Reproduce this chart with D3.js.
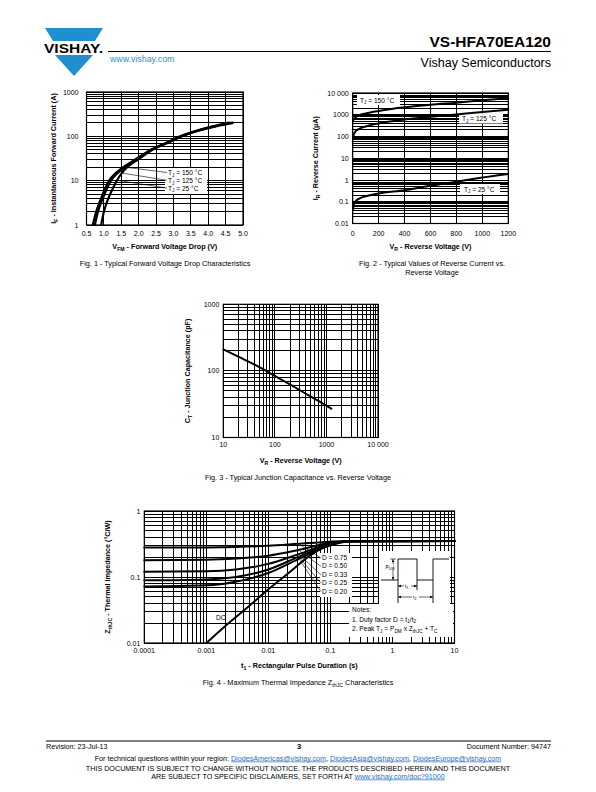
<!DOCTYPE html>
<html><head><meta charset="utf-8">
<script src="https://cdn.jsdelivr.net/npm/d3@7"></script>
<style>
body{margin:0;background:#fff}
svg{display:block}
text{font-family:"Liberation Sans",Arial,Helvetica,sans-serif;fill:#000}
</style></head>
<body><svg id="page" width="596" height="792"></svg>
<script>
// ---------------- DATA ----------------
// Fig.1  forward voltage (V) vs instantaneous forward current (A)
const fig1VoltageTicks = [0.5,1.0,1.5,2.0,2.5,3.0,3.5,4.0,4.5,5.0];
const fig1CurrentTicks = [1,10,100,1000];
const fig1CurrentLabels = ["1","10","100","1000"];
const fig1Tj150 = [[0.68,1],[0.78,2],[0.92,4],[1.05,7],[1.15,10],[1.35,15],[1.55,20],[1.9,30],[2.35,50],[2.8,72],[3.2,100],[3.7,135],[4.2,170],[4.7,205]];
const fig1Tj125 = [[0.74,1],[0.83,2],[0.97,4],[1.1,7],[1.2,10],[1.4,15],[1.6,20],[1.93,30],[2.38,50],[2.85,72],[3.25,100],[3.75,135],[4.25,170],[4.7,198]];
const fig1Tj25  = [[0.92,1],[1.0,2],[1.13,4],[1.27,7],[1.37,10],[1.52,15],[1.67,20],[1.98,30],[2.4,50],[2.82,72],[3.2,100],[3.68,135],[4.15,170],[4.6,205]];
const fig1Labels = ["150","125","25"];

// Fig.2  reverse voltage (V) vs reverse current (uA)
const fig2VoltageTicks = [0,200,400,600,800,1000,1200];
const fig2CurrentTicks = [0.01,0.1,1,10,100,1000,10000];
const fig2CurrentLabels = ["0.01","0.1","1","10","100","1000","10 000"];
const fig2Tj150 = [[3,560],[10,650],[25,800],[50,950],[100,1150],[200,1500],[300,1850],[400,2200],[600,2900],[800,3600],[1000,4600],[1200,5800]];
const fig2Tj125 = [[3,85],[10,130],[25,180],[50,225],[100,290],[200,400],[400,600],[600,800],[800,1030],[1000,1330],[1200,1700]];
const fig2Tj25  = [[3,0.045],[10,0.08],[25,0.11],[50,0.14],[100,0.18],[200,0.24],[400,0.34],[600,0.55],[800,0.84],[1000,1.3],[1200,1.9]];

// Fig.3  reverse voltage (V) vs junction capacitance (pF)
const fig3VoltageTicks = [10,100,1000,10000];
const fig3VoltageLabels = ["10","100","1000","10 000"];
const fig3CapTicks = [10,100,1000];
const fig3CapLabels = ["10","100","1000"];
const fig3Cap = [[10,210],[20,162],[50,114],[100,84],[200,62],[500,41],[1000,30],[1250,27]];

// Fig.4  pulse duration (s) vs thermal impedance (degC/W)
const fig4TimeTicks = [0.0001,0.001,0.01,0.1,1,10];
const fig4TimeLabels = ["0.0001","0.001","0.01","0.1","1","10"];
const fig4ZTicks = [0.01,0.1,1];
const fig4ZLabels = ["0.01","0.1","1"];
const fig4D075 = [[1e-4,0.28],[1e-3,0.281],[3e-3,0.285],[0.01,0.297],[0.03,0.318],[0.1,0.343],[0.2,0.35],[10,0.35]];
const fig4D050 = [[1e-4,0.18],[1e-3,0.182],[3e-3,0.19],[0.01,0.21],[0.03,0.255],[0.1,0.33],[0.2,0.349],[10,0.35]];
const fig4D033 = [[1e-4,0.12],[1e-3,0.122],[3e-3,0.13],[0.01,0.158],[0.03,0.22],[0.1,0.32],[0.2,0.348],[10,0.35]];
const fig4D025 = [[1e-4,0.089],[1e-3,0.092],[3e-3,0.1],[0.01,0.13],[0.03,0.2],[0.1,0.31],[0.2,0.347],[10,0.35]];
const fig4D020 = [[1e-4,0.072],[1e-3,0.075],[3e-3,0.085],[0.01,0.115],[0.03,0.185],[0.1,0.303],[0.2,0.345],[10,0.35]];
const fig4DC   = [[0.001,0.01],[0.002,0.018],[0.005,0.037],[0.01,0.065],[0.02,0.11],[0.05,0.22],[0.1,0.31],[0.2,0.345],[0.5,0.35],[10,0.35]];
const fig4DLabels = ["0.75","0.50","0.33","0.25","0.20"];

// ---------------- HELPERS ----------------
const svg = d3.select("#page");
const BLUE = "#1f8fd0";
const LINK = "#2a6fbf";

function rich(t, parts, size){
  let shift = 0;
  parts.forEach(p=>{
    const s = t.append("tspan");
    if (typeof p === "string"){ s.text(p); if (shift){ s.attr("dy", -shift); shift = 0; } }
    else { const d = size*0.28; s.text(p.sub).attr("font-size", size*0.72).attr("dy", d - shift); shift = d; }
  });
  return t;
}
function logGrid(lo, hi){
  const out = [];
  for (let e = Math.round(Math.log10(lo)); e < Math.round(Math.log10(hi)); e++)
    for (let k = 1; k < 10; k++) out.push(k*Math.pow(10,e));
  out.push(hi);
  return out;
}

function chart(o){
  const g = svg.append("g");
  const [xa, xb] = o.x.range(), [yb, ya] = o.y.range();
  const grid = g.append("g").attr("stroke","#000").attr("stroke-width",1).attr("shape-rendering","crispEdges");
  grid.selectAll(".v").data(o.xGrid).join("line").attr("class","v")
    .attr("x1",d=>o.x(d)).attr("x2",d=>o.x(d)).attr("y1",ya).attr("y2",yb);
  grid.selectAll(".h").data(o.yGrid).join("line").attr("class","h")
    .attr("y1",d=>o.y(d)).attr("y2",d=>o.y(d)).attr("x1",xa).attr("x2",xb);
  (o.boxes||[]).forEach(b=> g.append("rect").attr("x",b[0]).attr("y",b[1]).attr("width",b[2]).attr("height",b[3]).attr("fill","#fff"));
  g.append("rect").attr("x",xa).attr("y",ya).attr("width",xb-xa).attr("height",yb-ya)
    .attr("fill","none").attr("stroke","#000").attr("stroke-width",1.2);
  // tick labels
  g.selectAll(".xt").data(o.xTicks).join("text").attr("class","xt")
    .attr("x",d=>o.x(d)).attr("y",yb+o.xTickDy).attr("text-anchor","middle").attr("font-size",7)
    .text((d,i)=>o.xLabels[i]);
  g.selectAll(".yt").data(o.yTicks).join("text").attr("class","yt")
    .attr("x",xa-o.yTickGap).attr("y",d=>o.y(d)+2.5).attr("text-anchor","end").attr("font-size",7)
    .text((d,i)=>o.yLabels[i]);
  // series
  const line = d3.line().x(d=>o.x(d[0])).y(d=>o.y(d[1])).curve(d3.curveMonotoneX);
  o.series.forEach(s=> g.append("path").attr("d", line(s)).attr("fill","none")
    .attr("stroke","#000").attr("stroke-width",o.sw||2.2).attr("stroke-linecap","round"));
  // axis titles
  rich(g.append("text").attr("x",(xa+xb)/2).attr("y",o.xTitleY).attr("text-anchor","middle")
    .attr("font-size",7.2).attr("font-weight","bold"), o.xTitle, 7.2);
  rich(g.append("text").attr("transform",`translate(${o.yTitleX},${(ya+yb)/2}) rotate(-90)`)
    .attr("text-anchor","middle").attr("font-size",7.2).attr("font-weight","bold"), o.yTitle, 7.2);
  // caption
  o.caption.forEach((c,i)=> rich(g.append("text").attr("x",o.capX).attr("y",o.capY+i*8.5)
    .attr("text-anchor","middle").attr("font-size",7.3), c, 7.3));
  return g;
}

// ---------------- HEADER ----------------
svg.append("polygon").attr("points","45,28 103,28 95,41 53,41").attr("fill",BLUE);
svg.append("polygon").attr("points","55,55 93,55 74,76").attr("fill",BLUE);
svg.append("text").attr("x",44).attr("y",53).attr("font-size",13.5).attr("font-weight","bold")
  .attr("textLength",59).attr("lengthAdjust","spacingAndGlyphs").text("VISHAY.");
svg.append("text").attr("x",110).attr("y",62).attr("font-size",8.8).style("fill",BLUE).text("www.vishay.com");
svg.append("line").attr("x1",108).attr("x2",551).attr("y1",51.5).attr("y2",51.5).attr("stroke","#000").attr("stroke-width",1);
svg.append("text").attr("x",551).attr("y",47).attr("text-anchor","end").attr("font-size",15.5).attr("font-weight","bold").text("VS-HFA70EA120");
svg.append("text").attr("x",551).attr("y",66.5).attr("text-anchor","end").attr("font-size",12.5).text("Vishay Semiconductors");

// ---------------- FIG 1 ----------------
{
  const x = d3.scaleLinear().domain([0.5,5.0]).range([86.5,243]);
  const y = d3.scaleLog().domain([1,1000]).range([225,92]);
  const g = chart({x,y,xGrid:fig1VoltageTicks,yGrid:logGrid(1,1000),
    boxes:[[165,168,42,26]],
    xTicks:fig1VoltageTicks,xLabels:fig1VoltageTicks.map(v=>v.toFixed(1)),xTickDy:11,
    yTicks:fig1CurrentTicks,yLabels:fig1CurrentLabels,yTickGap:8,
    series:[fig1Tj150,fig1Tj125,fig1Tj25],sw:2.2,
    xTitle:["V",{sub:"FM"}," - Forward Voltage Drop (V)"],xTitleY:249,
    yTitle:["I",{sub:"F"}," - Instantaneous Forward Current (A)"],yTitleX:56,
    caption:[["Fig. 1 - Typical Forward Voltage Drop Characteristics"]],capX:165,capY:266});
  const src = [fig1Tj150[6], fig1Tj125[5], fig1Tj25[4]];
  fig1Labels.forEach((t,i)=>{
    const ly = 174+i*7.8;
    g.append("line").attr("x1",x(src[i][0])+3).attr("y1",y(src[i][1])).attr("x2",167).attr("y2",ly-1.5)
      .attr("stroke","#000").attr("stroke-width",0.6);
    rich(g.append("text").attr("x",168).attr("y",ly+1).attr("font-size",6.6),["T",{sub:"J"}," = "+t+" °C"],6.6);
  });
}

// ---------------- FIG 2 ----------------
{
  const x = d3.scaleLinear().domain([0,1200]).range([352.7,508.3]);
  const y = d3.scaleLog().domain([0.01,10000]).range([223.5,93]);
  const g = chart({x,y,xGrid:fig2VoltageTicks,yGrid:logGrid(0.01,10000),
    boxes:[[357,95,43,10],[459,113.5,44,10],[460,184,40,10]],
    xTicks:fig2VoltageTicks,xLabels:fig2VoltageTicks.map(String),xTickDy:12,
    yTicks:fig2CurrentTicks,yLabels:fig2CurrentLabels,yTickGap:4,
    series:[fig2Tj150,fig2Tj125,fig2Tj25],sw:2,
    xTitle:["V",{sub:"R"}," - Reverse Voltage (V)"],xTitleY:249,
    yTitle:["I",{sub:"R"}," - Reverse Current (µA)"],yTitleX:318,
    caption:[["Fig. 2 - Typical Values of Reverse Current vs."],["Reverse Voltage"]],capX:432,capY:266});
  [["150",360,102.5],["125",462,121],["25",464,191.5]].forEach(d=>{
    rich(g.append("text").attr("x",d[1]).attr("y",d[2]).attr("font-size",6.6),["T",{sub:"J"}," = "+d[0]+" °C"],6.6);
  });
}

// ---------------- FIG 3 ----------------
{
  const x = d3.scaleLog().domain([10,10000]).range([223.3,378]);
  const y = d3.scaleLog().domain([10,1000]).range([437.5,304.3]);
  chart({x,y,xGrid:logGrid(10,10000),yGrid:logGrid(10,1000),
    xTicks:fig3VoltageTicks,xLabels:fig3VoltageLabels,xTickDy:9,
    yTicks:fig3CapTicks,yLabels:fig3CapLabels,yTickGap:4,
    series:[fig3Cap],sw:2,
    xTitle:["V",{sub:"R"}," - Reverse Voltage (V)"],xTitleY:463,
    yTitle:["C",{sub:"T"}," - Junction Capacitance (pF)"],yTitleX:190,
    caption:[["Fig. 3 - Typical Junction Capacitance vs. Reverse Voltage"]],capX:298,capY:480});
}

// ---------------- FIG 4 ----------------
{
  const x = d3.scaleLog().domain([1e-4,10]).range([144.3,454.5]);
  const y = d3.scaleLog().domain([0.01,1]).range([643,511]);
  const g = chart({x,y,xGrid:logGrid(1e-4,10),yGrid:logGrid(0.01,1),
    boxes:[[320,553,32,44],[379,551,71,54],[349,604,104,33]],
    xTicks:fig4TimeTicks,xLabels:fig4TimeLabels,xTickDy:9.5,
    yTicks:fig4ZTicks,yLabels:fig4ZLabels,yTickGap:4,
    series:[fig4D075,fig4D050,fig4D033,fig4D025,fig4D020,fig4DC],sw:2,
    xTitle:["t",{sub:"1"}," - Rectangular Pulse Duration (s)"],xTitleY:668,
    yTitle:["Z",{sub:"thJC"}," - Thermal Impedance (°C/W)"],yTitleX:110,
    caption:[["Fig. 4 - Maximum Thermal Impedance Z",{sub:"thJC"}," Characteristics"]],capX:298,capY:685});
  const curves = [fig4D075,fig4D050,fig4D033,fig4D025,fig4D020];
  fig4DLabels.forEach((t,i)=>{
    const ly = 560 + i*8.4;
    const c = curves[i][4];
    g.append("line").attr("x1",x(c[0])+2).attr("y1",y(c[1])+1).attr("x2",321).attr("y2",ly-2)
      .attr("stroke","#000").attr("stroke-width",0.6);
    g.append("text").attr("x",322).attr("y",ly).attr("font-size",6.6).text("D = "+t);
  });
  g.append("text").attr("x",216).attr("y",620).attr("font-size",6.6).text("DC");
  // pulse waveform sketch
  const w = g.append("g").attr("fill","none").attr("stroke","#000").attr("stroke-width",0.9);
  w.append("polyline").attr("points","381,580 398,580 398,559 417,559 417,580 433,580 433,559 449,559");
  w.append("line").attr("x1",398).attr("x2",398).attr("y1",580).attr("y2",603);
  w.append("line").attr("x1",417).attr("x2",417).attr("y1",580).attr("y2",590);
  w.append("line").attr("x1",433).attr("x2",433).attr("y1",580).attr("y2",603);
  w.append("line").attr("x1",393).attr("x2",393).attr("y1",559).attr("y2",580).attr("stroke-width",0.6);
  w.append("line").attr("x1",390).attr("x2",396).attr("y1",559).attr("y2",559).attr("stroke-width",0.6);
  w.append("line").attr("x1",398).attr("x2",417).attr("y1",586).attr("y2",586).attr("stroke-width",0.6);
  w.append("line").attr("x1",398).attr("x2",433).attr("y1",597).attr("y2",597).attr("stroke-width",0.6);
  const arr = (x0,y0,dx,dy)=> g.append("path").attr("d",`M${x0},${y0} l${dx*3-dy*1.2},${dy*3-dx*1.2} l${dy*2.4},${dx*2.4} z`).attr("fill","#000");
  arr(398,586,1,0); arr(417,586,-1,0); arr(398,597,1,0); arr(433,597,-1,0);
  arr(393,559,0,1); arr(393,580,0,-1);
  g.append("rect").attr("x",404).attr("y",583).attr("width",7).attr("height",5).attr("fill","#fff");
  rich(g.append("text").attr("x",405).attr("y",587.5).attr("font-size",5),["t",{sub:"1"}],5);
  g.append("rect").attr("x",412).attr("y",594).attr("width",7).attr("height",5).attr("fill","#fff");
  rich(g.append("text").attr("x",413).attr("y",598.5).attr("font-size",5),["t",{sub:"2"}],5);
  g.append("rect").attr("x",385).attr("y",564).attr("width",8).attr("height",6).attr("fill","#fff");
  rich(g.append("text").attr("x",385.5).attr("y",568.5).attr("font-size",5),["P",{sub:"DM"}],5);
  // notes
  g.append("text").attr("x",352).attr("y",612).attr("font-size",6.6).text("Notes:");
  rich(g.append("text").attr("x",352).attr("y",621.5).attr("font-size",6.6),["1. Duty factor D = t",{sub:"1"},"/t",{sub:"2"}],6.6);
  rich(g.append("text").attr("x",352).attr("y",631).attr("font-size",6.6),["2. Peak T",{sub:"J"}," = P",{sub:"DM"}," x Z",{sub:"thJC"}," + T",{sub:"C"}],6.6);
}

// ---------------- FOOTER ----------------
svg.append("line").attr("x1",46).attr("x2",551).attr("y1",741).attr("y2",741).attr("stroke","#000").attr("stroke-width",1);
svg.append("text").attr("x",46).attr("y",748.5).attr("font-size",7.2).text("Revision: 23-Jul-13");
svg.append("text").attr("x",299).attr("y",749).attr("text-anchor","middle").attr("font-size",7.5).attr("font-weight","bold").text("3");
svg.append("text").attr("x",551).attr("y",748.5).attr("text-anchor","end").attr("font-size",7.2).text("Document Number: 94747");
{
  const t = svg.append("text").attr("x",298).attr("y",760.5).attr("text-anchor","middle").attr("font-size",7.2);
  const parts = [["For technical questions within your region: ",0],["DiodesAmericas@vishay.com",1],[", ",0],["DiodesAsia@vishay.com",1],[", ",0],["DiodesEurope@vishay.com",1]];
  parts.forEach(p=>{ const s=t.append("tspan").text(p[0]); if(p[1]) s.style("fill",LINK).attr("text-decoration","underline"); });
  svg.append("text").attr("x",298).attr("y",770.5).attr("text-anchor","middle").attr("font-size",7.2)
    .text("THIS DOCUMENT IS SUBJECT TO CHANGE WITHOUT NOTICE. THE PRODUCTS DESCRIBED HEREIN AND THIS DOCUMENT");
  const t2 = svg.append("text").attr("x",298).attr("y",778.5).attr("text-anchor","middle").attr("font-size",7.2);
  t2.append("tspan").text("ARE SUBJECT TO SPECIFIC DISCLAIMERS, SET FORTH AT ");
  t2.append("tspan").text("www.vishay.com/doc?91000").style("fill",LINK).attr("text-decoration","underline");
}
</script></body></html>
